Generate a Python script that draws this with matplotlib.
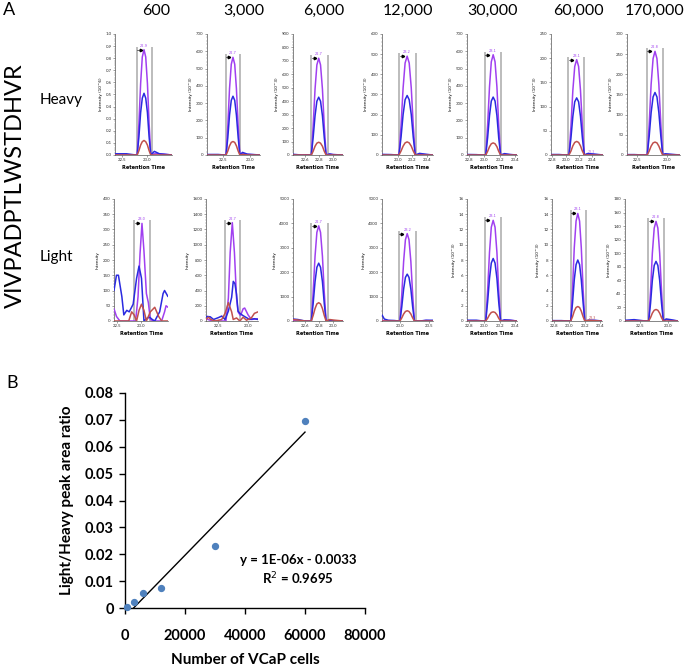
import matplotlib
matplotlib.use('Agg')
import matplotlib.pyplot as plt
import numpy as np
from matplotlib.ticker import MultipleLocator, AutoMinorLocator, FuncFormatter

# ---------------- data ----------------
cell_titles = ['600', '3,000', '6,000', '12,000', '30,000', '60,000', '170,000']
peptide = 'VIVPADPTLWSTDHVR'

# Heavy chromatograms (retention time, purple/blue/red intensities)
h600_rt = [22.37, 22.6, 22.78, 22.81, 22.844, 22.878, 22.911, 22.945, 22.979, 23.013, 23.046, 23.08, 23.15, 23.25, 23.5]
h600_p = [0, 0, 0, 0, 0.26, 0.59, 0.81, 0.87, 0.81, 0.59, 0.26, 0, 0.01, 0.01, 0]
h600_b = [0.01, 0.01, 0, 0, 0.15, 0.35, 0.47, 0.51, 0.47, 0.35, 0.15, 0, 0.03, 0.01, 0]
h600_r = [0, 0, 0, 0, 0.036, 0.082, 0.11, 0.12, 0.11, 0.082, 0.036, 0, 0, 0, 0]

h3000_rt = [22.19, 22.4, 22.52, 22.55, 22.583, 22.615, 22.648, 22.68, 22.713, 22.745, 22.778, 22.81, 22.86, 22.95, 23.19]
h3000_p = [0, 0, 0, 0, 170, 384, 525, 565, 525, 384, 170, 0, 10, 3, 0]
h3000_b = [3, 3, 0, 0, 102, 231, 316, 340, 316, 231, 102, 0, 15, 5, 0]
h3000_r = [0, 0, 0, 0, 23, 53, 73, 78, 73, 53, 23, 0, 3, 0, 0]

h6000_rt = [22.43, 22.55, 22.65, 22.69, 22.716, 22.743, 22.769, 22.795, 22.821, 22.848, 22.874, 22.90, 22.95, 23.0, 23.14]
h6000_p = [0, 0, 0, 0, 216, 490, 670, 720, 670, 490, 216, 0, 5, 3, 0]
h6000_b = [5, 0, 0, 0, 129, 292, 400, 430, 400, 292, 129, 0, 8, 3, 0]
h6000_r = [0, 0, 0, 0, 28, 65, 88, 95, 88, 65, 28, 0, 0, 0, 0]

h12000_rt = [22.77, 22.9, 22.98, 23.01, 23.039, 23.068, 23.096, 23.125, 23.154, 23.183, 23.211, 23.24, 23.3, 23.4, 23.49]
h12000_p = [0, 0, 0, 0, 147, 333, 456, 490, 456, 333, 147, 0, 3, 2, 0]
h12000_b = [3, 2, 0, 0, 89, 201, 274, 295, 274, 201, 89, 0, 8, 3, 0]
h12000_r = [0, 0, 0, 0, 20, 44, 60, 65, 60, 44, 20, 0, 0, 0, 0]

h30000_rt = [22.78, 22.9, 22.98, 23.02, 23.044, 23.068, 23.091, 23.115, 23.139, 23.163, 23.186, 23.21, 23.26, 23.33, 23.42]
h30000_p = [0, 0, 0, 0, 174, 394, 539, 580, 539, 394, 174, 0, 3, 2, 0]
h30000_b = [3, 2, 0, 0, 100, 228, 312, 335, 312, 228, 100, 0, 8, 3, 0]
h30000_r = [0, 0, 0, 0, 21, 48, 65, 70, 65, 48, 21, 0, 0, 0, 0]

h60000_rt = [22.78, 22.9, 23.0, 23.05, 23.079, 23.108, 23.136, 23.165, 23.194, 23.222, 23.251, 23.28, 23.33, 23.42, 23.56]
h60000_p = [0, 0, 0, 0, 59, 134, 183, 197, 183, 134, 59, 0, 2, 1, 0]
h60000_b = [1, 1, 0, 0, 35, 80, 110, 118, 110, 80, 35, 0, 3, 2, 0]
h60000_r = [0, 0, 0, 0, 8, 19, 26, 28, 26, 19, 8, 0, 0, 0, 0]

h170000_rt = [22.33, 22.45, 22.6, 22.67, 22.703, 22.735, 22.768, 22.8, 22.833, 22.865, 22.898, 22.93, 22.97, 23.05, 23.22]
h170000_p = [0, 0, 0, 0, 77, 175, 239, 257, 239, 175, 77, 0, 2, 1, 0]
h170000_b = [1, 1, 0, 0, 47, 105, 144, 155, 144, 105, 47, 0, 3, 2, 0]
h170000_r = [0, 0, 0, 0, 10, 22, 30, 32, 30, 22, 10, 0, 0, 0, 0]

# Light chromatograms
l600_rt_b = [22.44, 22.49, 22.53, 22.6, 22.64, 22.7, 22.75, 22.83, 22.9, 22.95, 23.0, 23.05, 23.12, 23.17, 23.22, 23.27, 23.37, 23.44, 23.47, 23.54]
l600_b = [100, 150, 150, 80, 20, 35, 30, 55, 140, 180, 140, 0, 10, 12, 5, 0, 30, 90, 100, 80]
l600_rt_p = [22.44, 22.49, 22.56, 22.88, 22.93, 22.97, 23.01, 23.05, 23.1, 23.14, 23.18, 23.24, 23.41, 23.47, 23.5, 23.54]
l600_p = [40, 15, 0, 0, 80, 220, 320, 230, 90, 60, 5, 0, 0, 30, 50, 45]
l600_rt_r = [22.44, 22.74, 22.8, 22.85, 22.9, 22.95, 23.0, 23.05, 23.1, 23.18, 23.27, 23.35, 23.41, 23.54]
l600_r = [0, 0, 30, 20, 0, 35, 55, 35, 0, 30, 45, 15, 0, 0]

l3000_rt_b = [22.30, 22.316, 22.37, 22.425, 22.507, 22.56, 22.615, 22.67, 22.724, 22.751, 22.778, 22.805, 22.83, 22.86, 22.914, 22.968, 23.02, 23.1, 23.16]
l3000_b = [50, 60, 55, 20, 45, 65, 20, 130, 310, 520, 490, 350, 130, 100, 70, 45, 20, 30, 20]
l3000_rt_p = [22.30, 22.37, 22.41, 22.63, 22.67, 22.70, 22.735, 22.77, 22.805, 22.83, 22.87, 22.914, 22.94, 22.996, 23.05, 23.16]
l3000_p = [30, 10, 0, 0, 300, 900, 1290, 900, 300, 120, 70, 160, 170, 80, 20, 30]
l3000_rt_r = [22.30, 22.34, 22.38, 22.45, 22.56, 22.615, 22.67, 22.724, 22.75, 22.805, 22.86, 22.914, 22.97, 23.05, 23.1, 23.16]
l3000_r = [20, 50, 20, 0, 20, 100, 240, 120, 20, 40, 0, 50, 10, 40, 100, 120]

l6000_rt = [22.43, 22.5, 22.6, 22.69, 22.716, 22.743, 22.769, 22.795, 22.821, 22.848, 22.874, 22.90, 22.95, 23.0, 23.14]
l6000_p = [20, 0, 0, 0, 1170, 2650, 3630, 3900, 3630, 2650, 1170, 0, 0, 0, 0]
l6000_b = [80, 60, 0, 0, 710, 1610, 2200, 2370, 2200, 1610, 710, 0, 20, 10, 0]
l6000_r = [60, 40, 0, 0, 225, 510, 700, 750, 700, 510, 225, 0, 60, 40, 0]

l12000_rt = [22.69, 22.73, 22.8, 22.9, 22.97, 23.0, 23.031, 23.063, 23.094, 23.125, 23.156, 23.188, 23.219, 23.25, 23.35, 23.45, 23.57]
l12000_p = [30, 0, 0, 0, 0, 0, 1075, 2435, 3330, 3580, 3330, 2435, 1075, 0, 0, 20, 0]
l12000_b = [250, 80, 30, 20, 0, 0, 576, 1306, 1786, 1920, 1786, 1306, 576, 0, 0, 30, 30]
l12000_r = [0, 0, 0, 0, 0, 0, 126, 286, 390, 420, 390, 286, 126, 0, 0, 0, 0]

l30000_rt = [22.78, 22.9, 22.98, 23.02, 23.044, 23.068, 23.091, 23.115, 23.139, 23.163, 23.186, 23.21, 23.26, 23.33, 23.42]
l30000_p = [0, 0, 0, 0, 4.0, 9.0, 12.3, 13.2, 12.3, 9.0, 4.0, 0, 0.1, 0.1, 0]
l30000_b = [0.1, 0.1, 0, 0, 2.5, 5.6, 7.6, 8.2, 7.6, 5.6, 2.5, 0, 0.15, 0.1, 0]
l30000_r = [0, 0, 0, 0, 0.36, 0.82, 1.12, 1.2, 1.12, 0.82, 0.36, 0, 0, 0, 0]

l60000_rt = [22.78, 22.9, 22.98, 23.02, 23.043, 23.065, 23.088, 23.11, 23.133, 23.155, 23.178, 23.2, 23.25, 23.32, 23.42]
l60000_p = [0, 0, 0, 0, 4.2, 9.6, 13.1, 14.1, 13.1, 9.6, 4.2, 0, 0.05, 0.05, 0]
l60000_b = [0.05, 0.05, 0, 0, 2.4, 5.4, 7.4, 8.0, 7.4, 5.4, 2.4, 0, 0.1, 0.1, 0]
l60000_r = [0, 0, 0, 0, 0.57, 1.29, 1.77, 1.9, 1.77, 1.29, 0.57, 0, 0.1, 0.05, 0]

l170000_rt = [22.24, 22.4, 22.6, 22.66, 22.693, 22.725, 22.758, 22.79, 22.823, 22.855, 22.888, 22.92, 22.97, 23.05, 23.18]
l170000_p = [0, 0, 0, 0, 44, 100, 137, 147, 137, 100, 44, 0, 2, 1, 0]
l170000_b = [1, 2, 0, 0, 26, 60, 82, 88, 82, 60, 26, 0, 3, 2, 0]
l170000_r = [0, 0, 0, 0, 5, 11.6, 15.8, 17, 15.8, 11.6, 5, 0, 0, 0, 0]

# Panel B data
vcap_cells = [600, 3000, 6000, 12000, 30000, 60000]
lh_ratio = [0.0002, 0.0021, 0.0057, 0.0073, 0.0232, 0.0697]
eq_text = 'y = 1E-06x - 0.0033'
r2_text = 'R$^2$ = 0.9695'

# ---------------- layout ----------------
W, H = 685, 668
fig = plt.figure(figsize=(W / 100, H / 100), dpi=100)
plt.rcParams['font.family'] = ['Lato', 'DejaVu Sans']


def rect(l, t, r, b):
    return [l / W, 1 - b / H, (r - l) / W, (b - t) / H]


PURPLE = '#a040f0'
BLUE = '#2a2ae0'
RED = '#c0504d'

heavy_specs = [
    dict(L=115, R=172, xlim=(22.37, 23.5), xt=[22.5, 23.0], ymax=1.0, ys=0.1, fmt='%.1f',
         ylab='Intensity (10^6)', tr=[(h600_rt, h600_p), (h600_rt, h600_b), (h600_rt, h600_r)],
         bnd=(22.80, 23.11), pk=(22.945, 0.87), pl='22.9'),
    dict(L=207, R=260, xlim=(22.19, 23.19), xt=[22.5, 23.0], ymax=700, ys=100, fmt='%d',
         ylab='Intensity (10^3)', tr=[(h3000_rt, h3000_p), (h3000_rt, h3000_b), (h3000_rt, h3000_r)],
         bnd=(22.54, 22.82), pk=(22.68, 565), pl='22.7'),
    dict(L=293, R=343, xlim=(22.43, 23.14), xt=[22.6, 22.8, 23.0], ymax=900, ys=100, fmt='%d',
         ylab='Intensity (10^3)', tr=[(h6000_rt, h6000_p), (h6000_rt, h6000_b), (h6000_rt, h6000_r)],
         bnd=(22.69, 22.92), pk=(22.795, 720), pl='22.7'),
    dict(L=382, R=433, xlim=(22.77, 23.49), xt=[23.0, 23.2, 23.4], ymax=600, ys=100, fmt='%d',
         ylab='Intensity (10^3)', tr=[(h12000_rt, h12000_p), (h12000_rt, h12000_b), (h12000_rt, h12000_r)],
         bnd=(23.01, 23.25), pk=(23.125, 490), pl='23.2'),
    dict(L=467, R=517, xlim=(22.78, 23.42), xt=[22.8, 23.0, 23.2, 23.4], ymax=700, ys=100, fmt='%d',
         ylab='Intensity (10^3)', tr=[(h30000_rt, h30000_p), (h30000_rt, h30000_b), (h30000_rt, h30000_r)],
         bnd=(23.01, 23.22), pk=(23.115, 580), pl='23.1'),
    dict(L=551, R=603, xlim=(22.78, 23.56), xt=[22.8, 23.0, 23.2, 23.4], ymax=250, ys=50, fmt='%d',
         ylab='Intensity (10^3)', tr=[(h60000_rt, h60000_p), (h60000_rt, h60000_b), (h60000_rt, h60000_r)],
         bnd=(23.04, 23.28), pk=(23.165, 197), pl='23.1', extra=(23.38, '23.3')),
    dict(L=627, R=680, xlim=(22.33, 23.22), xt=[22.5, 23.0], ymax=300, ys=50, fmt='%d',
         ylab='Intensity (10^3)', tr=[(h170000_rt, h170000_p), (h170000_rt, h170000_b), (h170000_rt, h170000_r)],
         bnd=(22.66, 22.93), pk=(22.8, 257), pl='22.8'),
]

light_specs = [
    dict(L=114, R=168, xlim=(22.44, 23.54), xt=[22.5, 23.0], ymax=400, ys=50, fmt='%d',
         ylab='Intensity', tr=[(l600_rt_p, l600_p), (l600_rt_b, l600_b), (l600_rt_r, l600_r)],
         bnd=(22.85, 23.17), pk=(23.01, 320), pl='23.0'),
    dict(L=206, R=258, xlim=(22.30, 23.16), xt=[22.5, 23.0], ymax=1600, ys=200, fmt='%d',
         ylab='Intensity', tr=[(l3000_rt_p, l3000_p), (l3000_rt_b, l3000_b), (l3000_rt_r, l3000_r)],
         bnd=(22.62, 22.87), pk=(22.735, 1290), pl='22.7'),
    dict(L=293, R=343, xlim=(22.43, 23.14), xt=[22.6, 22.8, 23.0], ymax=5000, ys=1000, fmt='%d',
         ylab='Intensity', tr=[(l6000_rt, l6000_p), (l6000_rt, l6000_b), (l6000_rt, l6000_r)],
         bnd=(22.69, 22.92), pk=(22.795, 3900), pl='22.7'),
    dict(L=382, R=433, xlim=(22.69, 23.57), xt=[23.0, 23.5], ymax=5000, ys=1000, fmt='%d',
         ylab='Intensity', tr=[(l12000_rt, l12000_p), (l12000_rt, l12000_b), (l12000_rt, l12000_r)],
         bnd=(22.98, 23.28), pk=(23.125, 3580), pl='23.2'),
    dict(L=467, R=517, xlim=(22.78, 23.42), xt=[22.8, 23.0, 23.2, 23.4], ymax=16, ys=2, fmt='%d',
         ylab='Intensity (10^3)', tr=[(l30000_rt, l30000_p), (l30000_rt, l30000_b), (l30000_rt, l30000_r)],
         bnd=(23.01, 23.22), pk=(23.115, 13.2), pl='23.1'),
    dict(L=552, R=602, xlim=(22.78, 23.42), xt=[22.8, 23.0, 23.2, 23.4], ymax=16, ys=2, fmt='%d',
         ylab='Intensity (10^3)', tr=[(l60000_rt, l60000_p), (l60000_rt, l60000_b), (l60000_rt, l60000_r)],
         bnd=(23.02, 23.21), pk=(23.11, 14.1), pl='23.1', extra=(23.3, '23.3')),
    dict(L=625, R=678, xlim=(22.24, 23.18), xt=[22.5, 23.0], ymax=180, ys=20, fmt='%d',
         ylab='Intensity (10^3)', tr=[(l170000_rt, l170000_p), (l170000_rt, l170000_b), (l170000_rt, l170000_r)],
         bnd=(22.65, 22.93), pk=(22.79, 147), pl='22.8'),
]


def draw_chrom(spec, top, bottom):
    ax = fig.add_axes(rect(spec['L'], top, spec['R'], bottom))
    ax.set_xlim(*spec['xlim'])
    ax.set_ylim(0, spec['ymax'])
    for s in ['top', 'right']:
        ax.spines[s].set_visible(False)
    for s in ['left', 'bottom']:
        ax.spines[s].set_color('#555555')
        ax.spines[s].set_linewidth(0.5)
    ax.set_xticks(spec['xt'])
    ax.set_xticklabels(['%.1f' % v for v in spec['xt']])
    ax.yaxis.set_major_locator(MultipleLocator(spec['ys']))
    ax.yaxis.set_minor_locator(AutoMinorLocator(5))
    fmt = spec['fmt']
    ax.yaxis.set_major_formatter(FuncFormatter(lambda v, p: fmt % v))
    ax.tick_params(axis='both', which='major', labelsize=3.2, length=1.5, width=0.4,
                   pad=1, colors='#555555', labelcolor='#333333')
    ax.tick_params(axis='y', which='minor', length=1.0, width=0.3, colors='#777777')
    ax.set_xlabel('Retention Time', fontsize=3.6, fontweight='bold', labelpad=1.5,
                  family=['DejaVu Sans'])
    ax.set_ylabel(spec['ylab'], fontsize=3.0, labelpad=2, family=['DejaVu Sans'])
    b1, b2 = spec['bnd']
    px, py = spec['pk']
    ax.vlines([b1, b2], 0, py * 1.03, colors='#b0b0b0', linewidth=1.2, zorder=1)
    cols = [PURPLE, BLUE, RED]
    order = [2, 0, 1]
    for k in order:
        x, y = spec['tr'][k]
        ax.plot(x, y, color=cols[k], lw=1.1, zorder=3 + k, solid_capstyle='round',
                solid_joinstyle='round')
    xr = spec['xlim'][1] - spec['xlim'][0]
    ax.plot([b1 + 0.01 * xr, b1 + 0.07 * xr], [py * 1.0, py * 1.0], color='black', lw=0.4, zorder=6)
    ax.plot([b1 + 0.07 * xr], [py * 1.0], marker='>', color='black', ms=1.8, zorder=6)
    ax.text(px, py * 1.02, spec['pl'], fontsize=2.5, color=PURPLE, ha='center', va='bottom',
            family=['DejaVu Sans'])
    if 'extra' in spec:
        ex, et = spec['extra']
        ax.text(ex, spec['ymax'] * 0.01, et, fontsize=2.3, color='#c070e0' if top < 100 else RED,
                ha='center', va='bottom', family=['DejaVu Sans'])
    return ax


for sp in heavy_specs:
    draw_chrom(sp, 34, 155)
for sp in light_specs:
    draw_chrom(sp, 199, 321)

title_x = [156, 244, 324, 408, 493, 578, 655]
for t, x in zip(cell_titles, title_x):
    fig.text(x / W, 1 - 11 / H, t, fontsize=11.5, ha='center', va='center')

fig.text(3 / W, 1 - 10 / H, 'A', fontsize=13, ha='left', va='center')
fig.text(15 / W, 1 - 186 / H, peptide, fontsize=17, rotation=90, ha='center', va='center')
fig.text(40 / W, 1 - 100 / H, 'Heavy', fontsize=11, ha='left', va='center')
fig.text(40 / W, 1 - 257 / H, 'Light', fontsize=11, ha='left', va='center')

# ---------------- Panel B ----------------
fig.text(6 / W, 1 - 383 / H, 'B', fontsize=13, ha='left', va='center')
axb = fig.add_axes(rect(125, 393, 365, 608))
axb.set_xlim(0, 80000)
axb.set_ylim(0, 0.08)
axb.xaxis.set_major_locator(MultipleLocator(20000))
axb.yaxis.set_major_locator(MultipleLocator(0.01))
axb.yaxis.set_major_formatter(FuncFormatter(lambda v, p: '0' if abs(v) < 1e-12 else '%.2f' % v))
axb.xaxis.set_major_formatter(FuncFormatter(lambda v, p: '%d' % v))
for s in ['top', 'right']:
    axb.spines[s].set_visible(False)
for s in ['left', 'bottom']:
    axb.spines[s].set_linewidth(1.0)
axb.tick_params(axis='both', length=4, width=1.0, labelsize=10.5, pad=4)
for lab in axb.get_xticklabels() + axb.get_yticklabels():
    lab.set_fontweight('bold')
axb.tick_params(axis='x', pad=11)
axb.scatter(vcap_cells, lh_ratio, s=18, color='#4f81bd', zorder=3, clip_on=False)
slope, intercept = np.polyfit(vcap_cells, lh_ratio, 1)
xf = np.array([min(vcap_cells), max(vcap_cells)])
axb.plot(xf, slope * xf + intercept, color='black', lw=1.0, zorder=2)
axb.set_xlabel('Number of VCaP cells', fontsize=11, fontweight='bold', labelpad=7)
axb.set_ylabel('Light/Heavy peak area ratio', fontsize=11, fontweight='bold', labelpad=8)
axb.text(298 / W, 1 - 560 / H, eq_text, transform=fig.transFigure, fontsize=9.5,
         fontweight='bold', ha='center', va='center')
axb.text(298 / W, 1 - 579 / H, r2_text, transform=fig.transFigure, fontsize=9.5,
         fontweight='bold', ha='center', va='center')

fig.savefig('out.png', dpi=100)
